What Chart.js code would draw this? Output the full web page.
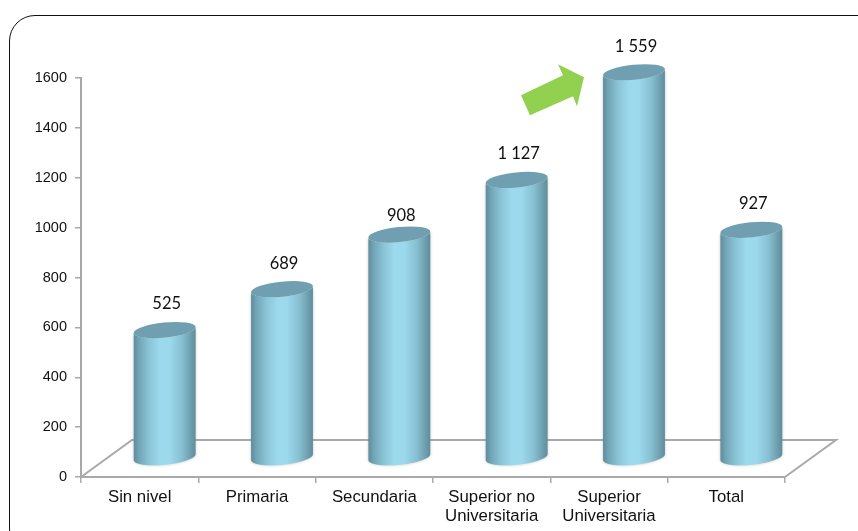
<!DOCTYPE html>
<html>
<head>
<meta charset="utf-8">
<script src="https://cdn.jsdelivr.net/npm/chart.js@4"></script>
<style>
  html, body { margin: 0; padding: 0; background: #fff; overflow: hidden; }
  #wrap { position: relative; width: 858px; height: 531px; overflow: hidden; }
  #frame { position: absolute; left: 9px; top: 15px; width: 900px; height: 540px; box-sizing: border-box;
           border: 1.6px solid #111; border-radius: 26px; }
  canvas { position: absolute; left: 0; top: 0; }
</style>
</head>
<body>
<div id="wrap">
  <div id="frame"></div>
  <canvas id="chart" width="858" height="531"></canvas>
</div>
<script>
const categories = ['Sin nivel', 'Primaria', 'Secundaria', ['Superior no', 'Universitaria'], ['Superior', 'Universitaria'], 'Total'];
const values = [525, 689, 908, 1127, 1559, 927];
const valueLabels = ['525', '689', '908', '1 127', '1 559', '927'];

// 3D look: bars sit in the middle of the floor, the floor runs back from the axis
const depthX = 25, depthTop = 16, depthBase = 19;
const floorX = 51, floorY = 37;
const axisGrey = '#a9a9a9';

const cylinders = {
    id: 'cylinders',
    beforeDatasetsDraw(chart) {
        const { ctx, chartArea: a } = chart;
        ctx.save();
        ctx.strokeStyle = axisGrey;
        ctx.lineWidth = 2;
        ctx.beginPath();
        ctx.moveTo(a.left, a.bottom);
        ctx.lineTo(a.left + floorX, a.bottom - floorY);
        ctx.lineTo(a.right + floorX, a.bottom - floorY);
        ctx.lineTo(a.right, a.bottom);
        ctx.stroke();
        ctx.restore();
    },
    afterDatasetsDraw(chart) {
        const { ctx } = chart;
        const bars = chart.getDatasetMeta(0).data;
        bars.forEach((bar, i) => {
            const cx = bar.x + depthX;
            const rx = bar.width / 2;
            const ry = 7.5;
            const tilt = -0.1;
            const top = bar.y - depthTop;
            const base = bar.base - depthBase;

            const g = ctx.createLinearGradient(cx - rx, 0, cx + rx, 0);
            g.addColorStop(0, '#5f8c9b');
            g.addColorStop(0.1, '#74a8b9');
            g.addColorStop(0.25, '#8ac4d6');
            g.addColorStop(0.42, '#9cd9ec');
            g.addColorStop(0.58, '#9cd9ec');
            g.addColorStop(0.78, '#86bfd0');
            g.addColorStop(1, '#5f8c9b');

            ctx.save();
            ctx.shadowColor = 'rgba(120,120,120,0.45)';
            ctx.shadowBlur = 3;
            ctx.fillStyle = g;
            ctx.beginPath();
            ctx.ellipse(cx, top, rx, ry, tilt, Math.PI, 0, true);
            ctx.ellipse(cx, base, rx, ry, tilt, 0, Math.PI, false);
            ctx.closePath();
            ctx.fill();
            ctx.restore();

            ctx.fillStyle = '#6f9fb0';
            ctx.beginPath();
            ctx.ellipse(cx, top, rx, ry, tilt, 0, Math.PI * 2);
            ctx.fill();

            ctx.fillStyle = '#111';
            ctx.font = '16.5px Lato, "Open Sans", sans-serif';
            ctx.textAlign = 'center';
            ctx.textBaseline = 'middle';
            // the label over Secundaria sits closer to its bar in the original
            const gap = i === 2 ? 19 : 26;
            ctx.fillText(valueLabels[i], cx + 2, top - gap);
        });

        // green arrow pointing at the tallest bar
        const peak = bars[values.indexOf(Math.max(...values))];
        const ox = peak.x + depthX, oy = peak.y - depthTop;
        const arrow = [[-113, 23], [-104, 43], [-61, 24], [-57, 34], [-50, 5], [-76, -8], [-71, 3]];
        ctx.fillStyle = '#92d050';
        ctx.beginPath();
        arrow.forEach(([dx, dy], k) => k ? ctx.lineTo(ox + dx, oy + dy) : ctx.moveTo(ox + dx, oy + dy));
        ctx.closePath();
        ctx.fill();
    }
};

new Chart(document.getElementById('chart'), {
    type: 'bar',
    data: {
        labels: categories,
        datasets: [{
            data: values,
            backgroundColor: 'transparent',
            borderWidth: 0,
            categoryPercentage: 1,
            barPercentage: 0.53
        }]
    },
    options: {
        responsive: false,
        animation: false,
        layout: { padding: { top: 78, right: 73, left: 0, bottom: 0 } },
        plugins: { legend: { display: false }, tooltip: { enabled: false } },
        scales: {
            x: {
                afterFit(s) { s.height = 54; },
                border: { color: axisGrey, width: 2 },
                grid: { drawOnChartArea: false, color: axisGrey, tickLength: 6, lineWidth: 1.5 },
                ticks: { color: '#111', font: { family: '"Liberation Sans", Arial, sans-serif', size: 16.8, lineHeight: 1.13 }, padding: 5, maxRotation: 0, autoSkip: false }
            },
            y: {
                min: 0,
                max: 1600,
                afterFit(s) { s.width = 81; },
                border: { color: axisGrey, width: 2 },
                grid: { drawOnChartArea: false, color: axisGrey, tickLength: 6, lineWidth: 1.5 },
                ticks: { stepSize: 200, color: '#111', font: { family: '"Liberation Sans", Arial, sans-serif', size: 14.5 }, padding: 8, callback: v => String(v) }
            }
        }
    },
    plugins: [cylinders]
});
</script>
</body>
</html>
